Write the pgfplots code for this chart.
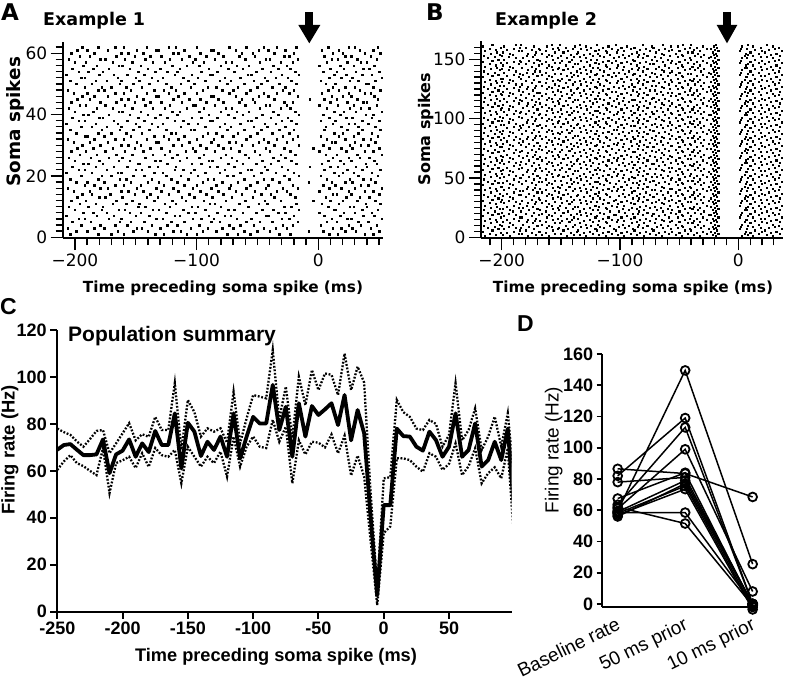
\documentclass[border=0pt]{standalone}
\usepackage{fontspec}
\setmainfont{Liberation Sans}
\newfontfamily\dv{DejaVu Sans}
\usepackage{pgfplots}
\usepackage{pgfplotstable}
\pgfplotsset{compat=1.18}
\newcommand{\fdv}[1]{\dv\fontsize{#1}{#1}\selectfont}
\newcommand{\fls}[1]{\fontsize{#1}{#1}\selectfont}
\pgfplotsset{dstyle/.style={black, solid, line width=1.5pt, mark=o, mark size=4.4pt, mark options={solid, line width=1.8pt}}}

\pgfplotstableread[header=false]{
1 -204 -181 -170 -160 -134 -127 -108 -100 -75 -66 -56 -32 -23 9 16 38 45
2 -199 -190 -165 -152 -140 -119 -113 -95 -84 -61 -50 -40 -8 4 22 31 50
3 -206 -184 -176 -149 -145 -130 -105 -91 -79 -70 -45 -35 -26 12 19 28 43
4 -195 -179 -167 -157 -137 -124 -116 -98 -73 -64 -53 -29 -21 2 25 35 48
5 -202 -187 -163 -154 -143 -121 -110 -88 -81 -59 -48 -38 -17 7 15 33 41
6 -197 -192 -172 -162 -133 -128 -103 -96 -86 -67 -55 -30 -24 11 24 27 52
7 -207 -182 -168 -150 -139 -118 -114 -90 -77 -72 -43 -41 -20 5 18 37 46
8 -193 -185 -174 -155 -146 -125 -107 -101 -83 -62 -51 -33 -27 1 21 30 44
9 -200 -178 -164 -159 -136 -131 -111 -93 -74 -69 -46 -37 -16 13 14 36 49
10 -205 -189 -177 -148 -142 -122 -104 -99 -80 -58 -57 -28 -22 8 26 29 40
11 -196 -183 -169 -158 -147 -126 -117 -89 -85 -65 -49 -42 -18 3 17 39 51
12 -203 -191 -166 -153 -135 -120 -109 -94 -76 -60 -44 -31 -4 10 20 32 47
13 -198 -180 -175 -161 -141 -132 -112 -102 -87 -71 -54 -36 -19 6 23 34 42
14 -194 -186 -171 -151 -138 -123 -106 -92 -78 -63 -47 -39 -23 12 15 27 50
15 -201 -188 -162 -156 -144 -129 -115 -97 -82 -68 -52 -34 -26 1 25 38 45
16 -206 -179 -173 -149 -133 -119 -103 -88 -73 -59 -43 -29 -17 9 19 30 52
17 -192 -184 -167 -160 -146 -127 -110 -100 -84 -72 -56 -41 -21 4 14 35 41
18 -199 -190 -176 -154 -140 -131 -116 -95 -79 -66 -50 -32 -8 11 22 28 47
19 -204 -181 -163 -158 -137 -121 -107 -91 -86 -61 -45 -38 -24 7 26 37 43
20 -195 -178 -170 -152 -143 -125 -113 -99 -75 -70 -53 -28 -16 2 17 33 49
21 -207 -186 -165 -162 -135 -128 -105 -93 -81 -64 -47 -35 -20 13 20 29 44
22 -197 -192 -174 -150 -145 -118 -111 -102 -77 -58 -55 -42 -25 5 24 36 51
23 -202 -183 -168 -157 -139 -132 -117 -89 -83 -69 -44 -30 -7 10 16 31 40
24 -193 -189 -177 -148 -147 -124 -104 -96 -74 -62 -51 -39 -18 3 21 39 48
25 -200 -180 -164 -155 -134 -130 -114 -90 -87 -67 -46 -33 -22 8 18 27 46
26 -205 -187 -172 -161 -142 -120 -108 -98 -80 -71 -57 -37 -27 12 25 34 42
27 -196 -182 -166 -153 -136 -126 -116 -94 -76 -60 -48 -31 -19 6 15 32 52
28 -203 -191 -175 -159 -144 -122 -109 -101 -85 -65 -52 -40 -23 1 23 38 45
29 -198 -185 -169 -151 -138 -129 -103 -92 -78 -72 -43 -28 -4 9 19 28 50
30 -194 -179 -162 -156 -146 -119 -112 -97 -82 -63 -54 -36 -16 4 26 35 41
31 -201 -188 -173 -149 -133 -131 -106 -88 -73 -68 -49 -41 -26 11 14 30 47
32 -206 -184 -167 -160 -141 -123 -115 -100 -86 -59 -45 -34 -21 7 22 37 43
33 -192 -190 -176 -154 -135 -127 -110 -95 -79 -70 -56 -29 -17 2 17 29 49
34 -199 -181 -170 -158 -145 -121 -117 -91 -84 -66 -50 -38 -24 13 20 33 44
35 -204 -178 -163 -152 -139 -125 -105 -102 -75 -61 -47 -32 -20 5 24 36 51
36 -195 -186 -174 -162 -147 -132 -113 -93 -81 -72 -53 -42 -27 6 19 33 47
37 -207 -183 -165 -150 -137 -128 -107 -99 -77 -64 -44 -35 -18 12 25 30 41
38 -197 -192 -168 -157 -143 -118 -111 -89 -87 -58 -55 -30 -22 2 14 36 50
39 -202 -180 -177 -148 -134 -124 -104 -96 -83 -69 -51 -39 -25 9 23 28 44
40 -193 -189 -172 -155 -140 -130 -116 -90 -74 -62 -46 -33 -16 4 18 39 45
41 -200 -185 -164 -161 -146 -120 -114 -98 -80 -67 -57 -37 -19 13 21 31 52
42 -205 -182 -169 -153 -136 -126 -108 -94 -76 -71 -48 -31 -23 7 26 35 42
43 -196 -191 -175 -159 -142 -122 -103 -101 -85 -60 -43 -40 -26 1 16 29 48
44 -203 -179 -166 -151 -138 -129 -112 -92 -78 -65 -52 -28 -21 10 24 37 40
45 -198 -188 -162 -156 -144 -119 -106 -97 -82 -63 -54 -36 -7 5 15 32 49
46 -194 -184 -173 -149 -133 -131 -115 -88 -86 -68 -49 -41 -17 11 20 27 46
47 -201 -190 -167 -160 -141 -123 -110 -100 -73 -59 -45 -34 -24 3 25 38 43
48 -206 -181 -176 -154 -135 -127 -117 -95 -79 -70 -56 -29 -20 8 17 34 51
49 -192 -178 -170 -158 -145 -121 -105 -91 -84 -66 -50 -38 -27 12 22 30 45
50 -199 -186 -163 -152 -139 -125 -113 -102 -75 -61 -47 -32 -18 6 14 39 41
51 -204 -183 -174 -162 -147 -132 -107 -93 -81 -72 -53 -42 -22 2 26 33 47
52 -195 -192 -165 -150 -137 -128 -111 -99 -77 -64 -44 -35 -25 9 19 28 52
53 -207 -180 -168 -157 -143 -118 -104 -89 -87 -58 -55 -30 -16 13 23 36 44
54 -197 -189 -177 -148 -134 -124 -116 -96 -83 -69 -51 -39 -19 4 15 31 50
55 -202 -185 -172 -155 -140 -130 -114 -90 -74 -62 -46 -33 -23 10 21 37 42
56 -193 -182 -164 -161 -146 -120 -108 -98 -80 -67 -57 -37 -26 1 18 29 46
57 -200 -191 -169 -153 -136 -126 -103 -94 -76 -71 -48 -31 -21 7 24 35 40
58 -205 -179 -175 -159 -142 -122 -112 -101 -85 -60 -43 -40 -17 11 16 32 48
59 -196 -188 -166 -151 -138 -129 -106 -92 -78 -65 -52 -28 -24 5 22 27 43
60 -203 -184 -162 -156 -144 -119 -115 -97 -82 -63 -54 -36 -20 12 20 38 51
61 -198 -190 -173 -149 -133 -131 -110 -88 -86 -68 -49 -41 -27 3 17 34 45
62 -194 -181 -167 -160 -141 -123 -117 -100 -73 -59 -45 -34 -18 8 25 30 49
}\rasterA

\pgfplotstableread[header=false]{
1 -214 -97 -193 -80 -178 -65 -160 -48 -145 -129 29 -112 -33 -19 3 12
2 -205 -102 -199 -86 -171 -70 -166 -53 -139 -134 24 -118 -38 -22 1 8
3 -210 -91 -186 -75 -183 -59 -155 -43 -150 -123 35 -107 -27 -17 5 17
4 -201 -99 -196 -83 -175 -67 -163 -50 -142 -131 27 -115 -35 -20 2 10
5 -216 -94 -190 -78 -169 -62 -168 -56 -137 -126 32 -110 -30 -23 6 20
6 -208 -104 -185 -88 -180 -72 -157 -45 -148 -136 22 -120 -40 -18 3 14
7 -203 -89 -198 -73 -173 -57 -153 -41 -144 -121 37 -105 -25 -21 1 7
8 -212 -96 -188 -81 -184 -64 -162 -51 -152 -128 26 -114 -32 -19 5 19
9 -206 -101 -194 -85 -177 -69 -158 -47 -140 -133 31 -117 -37 -22 2 12
10 -215 -93 -200 -77 -170 -60 -160 -48 -146 -125 34 -109 -29 -17 6 8
11 -202 -98 -191 -84 -182 -66 -166 -53 -138 -129 29 -119 -34 -20 3 17
12 -209 -90 -193 -80 -174 -71 -155 -43 -151 -134 24 -111 -39 -23 1 10
13 -204 -103 -199 -86 -179 -58 -163 -50 -143 -123 35 -112 -33 -18 5 20
14 -214 -97 -186 -75 -172 -63 -168 -56 -149 -131 27 -118 -38 -21 2 14
15 -205 -102 -196 -83 -178 -65 -157 -45 -141 -126 32 -107 -27 -19 6 7
16 -210 -91 -190 -78 -171 -70 -153 -41 -145 -136 22 -115 -35 -22 3 19
17 -201 -99 -185 -88 -183 -59 -162 -51 -139 -121 37 -110 -30 -17 1 12
18 -216 -94 -198 -73 -175 -67 -158 -47 -150 -128 26 -120 -40 -20 5 8
19 -208 -104 -188 -81 -169 -62 -160 -48 -142 -133 31 -105 -25 -23 2 17
20 -203 -89 -194 -85 -180 -72 -166 -53 -137 -125 34 -114 -32 -18 6 10
21 -212 -96 -200 -77 -173 -57 -155 -43 -148 -129 29 -117 -37 -21 3 20
22 -206 -101 -191 -84 -184 -64 -163 -50 -144 -134 24 -109 -29 -19 1 14
23 -215 -93 -193 -80 -177 -69 -168 -56 -152 -123 35 -119 -34 -22 5 7
24 -202 -98 -199 -86 -170 -60 -157 -45 -140 -131 27 -111 -39 -17 2 19
25 -209 -90 -186 -75 -182 -66 -153 -41 -146 -126 32 -112 -33 -20 6 12
26 -204 -103 -196 -83 -174 -71 -162 -51 -138 -136 22 -118 -38 -23 3 8
27 -214 -97 -190 -78 -179 -58 -158 -47 -151 -121 37 -107 -27 -18 1 17
28 -205 -102 -185 -88 -172 -63 -160 -48 -143 -128 26 -115 -35 -21 5 10
29 -210 -91 -198 -73 -178 -65 -166 -53 -149 -133 31 -110 -30 -19 2 20
30 -201 -99 -188 -81 -171 -70 -155 -43 -141 -125 34 -120 -40 -22 6 14
31 -216 -94 -194 -85 -183 -59 -163 -50 -145 -129 29 -105 -25 -17 3 7
32 -208 -104 -200 -77 -175 -67 -168 -56 -139 -134 24 -114 -32 -20 1 19
33 -203 -89 -191 -84 -169 -62 -157 -45 -150 -123 35 -117 -37 -23 5 12
34 -212 -96 -193 -80 -180 -72 -153 -41 -142 -131 27 -109 -29 -18 2 8
35 -206 -101 -199 -86 -173 -57 -162 -51 -137 -126 32 -119 -34 -21 6 17
36 -215 -93 -186 -75 -184 -64 -158 -47 -148 -136 22 -111 -39 -19 3 10
37 -202 -98 -196 -83 -177 -69 -160 -48 -144 -121 37 -112 -33 -22 1 20
38 -209 -90 -190 -78 -170 -60 -166 -53 -152 -128 26 -118 -38 -17 5 14
39 -204 -103 -185 -88 -182 -66 -155 -43 -140 -133 31 -107 -27 -20 2 7
40 -214 -97 -198 -73 -174 -71 -163 -50 -146 -125 34 -115 -35 -23 6 19
41 -205 -102 -188 -81 -179 -58 -168 -56 -138 -129 29 -110 -30 -18 3 12
42 -210 -91 -194 -85 -172 -63 -157 -45 -151 -134 24 -120 -40 -21 1 8
43 -201 -99 -200 -77 -178 -65 -153 -41 -143 -123 35 -105 -25 -19 5 17
44 -216 -94 -191 -84 -171 -70 -162 -51 -149 -131 27 -114 -32 -22 2 10
45 -208 -104 -193 -80 -183 -59 -158 -47 -141 -126 32 -117 -37 -17 6 20
46 -203 -89 -199 -86 -175 -67 -160 -48 -145 -136 22 -109 -29 -20 3 14
47 -212 -96 -186 -75 -169 -62 -166 -53 -139 -121 37 -119 -34 -23 1 7
48 -206 -101 -196 -83 -180 -72 -155 -43 -150 -128 26 -111 -39 -18 5 19
49 -215 -93 -190 -78 -173 -57 -163 -50 -142 -133 31 -112 -33 -21 2 12
50 -202 -98 -185 -88 -184 -64 -168 -56 -137 -125 34 -118 -38 -19 6 8
51 -209 -90 -198 -73 -177 -69 -157 -45 -148 -129 29 -107 -27 -22 3 17
52 -204 -103 -188 -81 -170 -60 -153 -41 -144 -134 24 -115 -35 -17 1 10
53 -214 -97 -194 -85 -182 -66 -162 -51 -152 -123 35 -110 -30 -20 5 20
54 -205 -102 -200 -77 -174 -71 -158 -47 -140 -131 27 -120 -40 -23 2 14
55 -210 -91 -191 -84 -179 -58 -160 -48 -146 -126 32 -105 -25 -18 6 7
56 -201 -99 -193 -80 -172 -63 -166 -53 -138 -136 22 -114 -32 -21 3 19
57 -216 -94 -199 -86 -178 -65 -155 -43 -151 -121 37 -117 -37 -19 1 12
58 -208 -104 -186 -75 -171 -70 -163 -50 -143 -128 26 -109 -29 -22 5 8
59 -203 -89 -196 -83 -183 -59 -168 -56 -149 -133 31 -119 -34 -17 2 17
60 -212 -96 -190 -78 -175 -67 -157 -45 -141 -125 34 -111 -39 -20 6 10
61 -206 -101 -185 -88 -169 -62 -153 -41 -145 -129 29 -112 -33 -23 3 20
62 -215 -93 -198 -73 -180 -72 -162 -51 -139 -134 24 -118 -38 -18 1 14
63 -202 -98 -188 -81 -173 -57 -158 -47 -150 -123 35 -107 -27 -21 5 7
64 -209 -90 -194 -85 -184 -64 -160 -48 -142 -131 27 -115 -35 -19 2 19
65 -204 -103 -200 -77 -177 -69 -166 -53 -137 -126 32 -110 -30 -22 6 12
66 -214 -97 -191 -84 -170 -60 -155 -43 -148 -136 22 -120 -40 -17 3 8
67 -205 -102 -193 -80 -182 -66 -163 -50 -144 -121 37 -105 -25 -20 1 17
68 -210 -91 -199 -86 -174 -71 -168 -56 -152 -128 26 -114 -32 -23 5 10
69 -201 -99 -186 -75 -179 -58 -157 -45 -140 -133 31 -117 -37 -18 2 20
70 -216 -94 -196 -83 -172 -63 -153 -41 -146 -125 34 -109 -29 -21 6 14
71 -208 -104 -190 -78 -178 -65 -162 -51 -138 -129 29 -119 -34 -19 3 7
72 -203 -89 -185 -88 -171 -70 -158 -47 -151 -134 24 -111 -39 -22 1 19
73 -212 -96 -198 -73 -183 -59 -160 -48 -143 -123 35 -112 -33 -17 5 12
74 -206 -101 -188 -81 -175 -67 -166 -53 -149 -131 27 -118 -38 -20 2 8
75 -215 -93 -194 -85 -169 -62 -155 -43 -141 -126 32 -107 -27 -23 6 17
76 -202 -98 -200 -77 -180 -72 -163 -50 -145 -136 22 -115 -35 -18 3 10
77 -209 -90 -191 -84 -173 -57 -168 -56 -139 -121 37 -110 -30 -21 1 20
78 -204 -103 -193 -80 -184 -64 -157 -45 -150 -128 26 -120 -40 -19 5 14
79 -214 -97 -199 -86 -177 -69 -153 -41 -142 -133 31 -105 -25 -22 2 7
80 -205 -102 -186 -75 -170 -60 -162 -51 -137 -125 34 -114 -32 -17 6 19
81 -210 -91 -196 -83 -182 -66 -158 -47 -148 -129 29 -117 -37 -20 3 12
82 -201 -99 -190 -78 -174 -71 -160 -48 -144 -134 24 -109 -29 -23 1 8
83 -216 -94 -185 -88 -179 -58 -166 -53 -152 -123 35 -119 -34 -18 5 17
84 -208 -104 -198 -73 -172 -63 -155 -43 -140 -131 27 -111 -39 -21 2 10
85 -203 -89 -188 -81 -178 -65 -163 -50 -146 -126 32 -112 -33 -19 6 20
86 -212 -96 -194 -85 -171 -70 -168 -56 -138 -136 22 -118 -38 -22 3 14
87 -206 -101 -200 -77 -183 -59 -157 -45 -151 -121 37 -107 -27 -17 1 7
88 -215 -93 -191 -84 -175 -67 -153 -41 -143 -128 26 -115 -35 -20 5 19
89 -202 -98 -193 -80 -169 -62 -162 -51 -149 -133 31 -110 -30 -23 2 12
90 -209 -90 -199 -86 -180 -72 -158 -47 -141 -125 34 -120 -40 -18 6 8
91 -204 -103 -186 -75 -173 -57 -160 -48 -145 -129 29 -105 -25 -21 3 17
92 -214 -97 -196 -83 -184 -64 -166 -53 -139 -134 24 -114 -32 -19 1 10
93 -205 -102 -190 -78 -177 -69 -155 -43 -150 -123 35 -117 -37 -22 5 20
94 -210 -91 -185 -88 -170 -60 -163 -50 -142 -131 27 -109 -29 -17 2 14
95 -201 -99 -198 -73 -182 -66 -168 -56 -137 -126 32 -119 -34 -20 6 7
96 -216 -94 -188 -81 -174 -71 -157 -45 -148 -136 22 -111 -39 -23 3 19
97 -208 -104 -194 -85 -179 -58 -153 -41 -144 -121 37 -112 -33 -18 1 12
98 -203 -89 -200 -77 -172 -63 -162 -51 -152 -128 26 -118 -38 -21 5 8
99 -212 -96 -191 -84 -178 -65 -158 -47 -140 -133 31 -107 -27 -19 2 17
100 -206 -101 -193 -80 -171 -70 -160 -48 -146 -125 34 -115 -35 -22 6 10
101 -215 -93 -199 -86 -183 -59 -166 -53 -138 -129 29 -110 -30 -17 3 20
102 -202 -98 -186 -75 -175 -67 -155 -43 -151 -134 24 -120 -40 -20 1 14
103 -209 -90 -196 -83 -169 -62 -163 -50 -143 -123 35 -105 -25 -23 5 7
104 -204 -103 -190 -78 -180 -72 -168 -56 -149 -131 27 -114 -32 -18 2 19
105 -214 -97 -185 -88 -173 -57 -157 -45 -141 -126 32 -117 -37 -21 6 12
106 -205 -102 -198 -73 -184 -64 -153 -41 -145 -136 22 -109 -29 -19 3 8
107 -210 -91 -188 -81 -177 -69 -162 -51 -139 -121 37 -119 -34 -22 1 17
108 -201 -99 -194 -85 -170 -60 -158 -47 -150 -128 26 -111 -39 -17 5 10
109 -216 -94 -200 -77 -182 -66 -160 -48 -142 -133 31 -112 -33 -20 2 20
110 -208 -104 -191 -84 -174 -71 -166 -53 -137 -125 34 -118 -38 -23 6 14
111 -203 -89 -193 -80 -179 -58 -155 -43 -148 -129 29 -107 -27 -18 3 7
112 -212 -96 -199 -86 -172 -63 -163 -50 -144 -134 24 -115 -35 -21 1 19
113 -206 -101 -186 -75 -178 -65 -168 -56 -152 -123 35 -110 -30 -19 5 12
114 -215 -93 -196 -83 -171 -70 -157 -45 -140 -131 27 -120 -40 -22 2 8
115 -202 -98 -190 -78 -183 -59 -153 -41 -146 -126 32 -105 -25 -17 6 17
116 -209 -90 -185 -88 -175 -67 -162 -51 -138 -136 22 -114 -32 -20 3 10
117 -204 -103 -198 -73 -169 -62 -158 -47 -151 -121 37 -117 -37 -23 1 20
118 -214 -97 -188 -81 -180 -72 -160 -48 -143 -128 26 -109 -29 -18 5 14
119 -205 -102 -194 -85 -173 -57 -166 -53 -149 -133 31 -119 -34 -21 2 7
120 -210 -91 -200 -77 -184 -64 -155 -43 -141 -125 34 -111 -39 -19 6 19
121 -201 -99 -191 -84 -177 -69 -163 -50 -145 -129 29 -112 -33 -22 3 12
122 -216 -94 -193 -80 -170 -60 -168 -56 -139 -134 24 -118 -38 -17 1 8
123 -208 -104 -199 -86 -182 -66 -157 -45 -150 -123 35 -107 -27 -20 5 17
124 -203 -89 -186 -75 -174 -71 -153 -41 -142 -131 27 -115 -35 -23 2 10
125 -212 -96 -196 -83 -179 -58 -162 -51 -137 -126 32 -110 -30 -18 6 20
126 -206 -101 -190 -78 -172 -63 -158 -47 -148 -136 22 -120 -40 -21 3 14
127 -215 -93 -185 -88 -178 -65 -160 -48 -144 -121 37 -105 -25 -19 1 7
128 -202 -98 -198 -73 -171 -70 -166 -53 -152 -128 26 -114 -32 -22 5 19
129 -209 -90 -188 -81 -183 -59 -155 -43 -140 -133 31 -117 -37 -17 2 12
130 -204 -103 -194 -85 -175 -67 -163 -50 -146 -125 34 -109 -29 -20 6 8
131 -214 -97 -200 -77 -169 -62 -168 -56 -138 -129 29 -119 -34 -23 3 17
132 -205 -102 -191 -84 -180 -72 -157 -45 -151 -134 24 -111 -39 -18 1 10
133 -210 -91 -193 -80 -173 -57 -153 -41 -143 -123 35 -112 -33 -21 5 20
134 -201 -99 -199 -86 -184 -64 -162 -51 -149 -131 27 -118 -38 -19 2 14
135 -216 -94 -186 -75 -177 -69 -158 -47 -141 -126 32 -107 -27 -22 6 7
136 -208 -104 -196 -83 -170 -60 -160 -48 -145 -136 22 -115 -35 -17 3 19
137 -203 -89 -190 -78 -182 -66 -166 -53 -139 -121 37 -110 -30 -20 1 12
138 -212 -96 -185 -88 -174 -71 -155 -43 -150 -128 26 -120 -40 -23 5 8
139 -206 -101 -198 -73 -179 -58 -163 -50 -142 -133 31 -105 -25 -18 2 17
140 -215 -93 -188 -81 -172 -63 -168 -56 -137 -125 34 -114 -32 -21 6 10
141 -202 -98 -194 -85 -178 -65 -157 -45 -148 -129 29 -117 -37 -19 3 20
142 -209 -90 -200 -77 -171 -70 -153 -41 -144 -134 24 -109 -29 -22 1 14
143 -204 -103 -191 -84 -183 -59 -162 -51 -152 -123 35 -119 -34 -17 5 7
144 -214 -97 -193 -80 -175 -67 -158 -47 -140 -131 27 -111 -39 -20 2 19
145 -205 -102 -199 -86 -169 -62 -160 -48 -146 -126 32 -112 -33 -23 6 12
146 -210 -91 -186 -75 -180 -72 -166 -53 -138 -136 22 -118 -38 -18 3 8
147 -201 -99 -196 -83 -173 -57 -155 -43 -151 -121 37 -107 -27 -21 1 17
148 -216 -94 -190 -78 -184 -64 -163 -50 -143 -128 26 -115 -35 -19 5 10
149 -208 -104 -185 -88 -177 -69 -168 -56 -149 -133 31 -110 -30 -22 2 20
150 -203 -89 -198 -73 -170 -60 -157 -45 -141 -125 34 -120 -40 -17 6 14
151 -212 -96 -188 -81 -182 -66 -153 -41 -145 -129 29 -105 -25 -20 3 7
152 -206 -101 -194 -85 -174 -71 -162 -51 -139 -134 24 -114 -32 -23 1 19
153 -215 -93 -200 -77 -179 -58 -158 -47 -150 -123 35 -117 -37 -18 5 12
154 -202 -98 -191 -84 -172 -63 -160 -48 -142 -131 27 -109 -29 -21 2 8
155 -209 -90 -193 -80 -178 -65 -166 -53 -137 -126 32 -119 -34 -19 6 17
156 -204 -103 -199 -86 -171 -70 -155 -43 -148 -136 22 -111 -39 -22 3 10
157 -214 -97 -186 -75 -183 -59 -163 -50 -144 -121 37 -112 -33 -17 1 20
158 -205 -102 -196 -83 -175 -67 -168 -56 -152 -128 26 -118 -38 -20 5 14
159 -210 -91 -190 -78 -169 -62 -157 -45 -140 -133 31 -107 -27 -23 2 7
160 -201 -99 -185 -88 -180 -72 -153 -41 -146 -125 34 -115 -35 -18 6 19
161 -216 -94 -198 -73 -173 -57 -162 -51 -138 -129 29 -110 -30 -21 3 12
162 -208 -104 -188 -81 -184 -64 -158 -47 -151 -134 24 -120 -40 -19 1 8
}\rasterB

\pgfplotstableread{
t m lo hi
-250 69 60.4 78
-245 71 64 76.5
-240 71.4 66.7 75.3
-235 69 63.3 72.5
-230 66.7 62 70.3
-225 66.7 60 73.5
-220 67 58.2 77
-215 73.4 69.7 77.4
-210 59 50.5 67.5
-205 67 63.3 71.7
-200 68.6 64.5 76
-195 73.4 66 80.3
-190 66 61.2 73
-185 71.7 67.5 75.6
-180 68 61.7 74.5
-175 77 69.7 83
-170 71 66.7 77.4
-165 71 66 77.4
-160 84.5 68.9 97.4
-155 61 54.7 69
-150 80.5 70.3 90.2
-145 76.7 66 85
-140 66.3 61.8 74.6
-135 72.4 66 78.1
-130 68.9 63.3 76.7
-125 74.6 68.2 78.1
-120 66 57.5 72
-115 84.5 74.6 93.7
-110 65.3 61.8 71.7
-105 74.6 70.3 82.4
-100 83 74.6 92.3
-95 80.2 70.3 91.6
-90 80.2 69.7 90.9
-85 96.6 81.7 111.5
-80 77.4 72.4 82
-75 87.3 78.8 95.9
-70 66 54.7 74
-65 88.8 73 100.1
-60 74.6 67 88
-55 87.6 72.4 103
-50 83.8 72 94.4
-45 86.2 70 101.5
-40 88.8 75.5 100.9
-35 79.5 67.5 92.3
-30 92.3 75 110
-25 73 58 94.4
-20 85.9 66.5 104.4
-15 76 57.5 97.6
-10 40 30 50
-5 7 2.8 10.6
0 45.4 33.5 56.8
5 45.4 36.3 57.3
10 78 65.4 90.2
15 74.8 65.3 85
20 74.6 64.6 83
25 70.3 61.8 78
30 68.6 59.6 77.4
35 76.7 67.5 81.7
40 73.1 66 80
45 66 60.4 70.3
50 70.3 63 75.3
55 84.5 71.7 97.3
60 66 58.2 73
65 68.9 62 77.4
70 80.2 69.6 86.6
75 61.8 54.7 68.9
80 64.6 59 74.6
85 72.4 61.5 83.1
90 64.6 56.8 70.3
95 78 69.6 84.5
100 41.3 28.6 55
}\popC

\begin{document}
\begin{tikzpicture}[x=1pt,y=1pt]
\useasboundingbox (0,0) rectangle (792,681);

% ---------------- Panel A ----------------
\begin{axis}[
  at={(62.7pt,442.8pt)}, anchor=south west, scale only axis,
  width=320pt, height=195.7pt,
  xmin=-210, xmax=53, ymin=-0.3, ymax=63.5,
  axis lines*=left,
  axis line style={line width=1.6pt},
  every tick/.style={black, line width=1.3pt},
  tick align=outside, major tick length=12pt, minor tick length=7pt,
  xtick={-200,-100,0}, xticklabels={−200,−100,0},
  minor xtick={-190,-180,...,50},
  ytick={0,20,40,60}, yticklabels={0,20,40,60},
  minor ytick={2,4,...,62},
  tick label style={font=\fdv{17}},
]
\pgfplotsinvokeforeach{1,...,17}{
  \addplot[only marks, mark=square*, mark size=0.75pt, black] table[x index=#1, y index=0] {\rasterA};
}
\end{axis}

% ---------------- Panel B ----------------
\begin{axis}[
  at={(481pt,442.7pt)}, anchor=south west, scale only axis,
  width=302.3pt, height=196.8pt,
  xmin=-217.5, xmax=38, ymin=-0.8, ymax=165,
  axis lines*=left,
  axis line style={line width=1.6pt},
  every tick/.style={black, line width=1.3pt},
  tick align=outside, major tick length=12pt, minor tick length=7pt,
  xtick={-200,-100,0}, xticklabels={−200,−100,0},
  minor xtick={-210,-200,...,30},
  ytick={0,50,100,150}, yticklabels={0,50,100,150},
  minor ytick={5,10,...,160},
  tick label style={font=\fdv{17}},
]
\pgfplotsinvokeforeach{1,...,14,16}{
  \addplot[only marks, mark=square*, mark size=0.55pt, black] table[x index=#1, y index=0] {\rasterB};
}
\addplot[only marks, mark=square*, mark size=0.55pt, black, each nth point=2] table[x index=15, y index=0] {\rasterB};
\end{axis}

% ---------------- Panel C ----------------
\begin{axis}[
  at={(57.3pt,69.3pt)}, anchor=south west, scale only axis,
  width=454.4pt, height=281.7pt,
  xmin=-250, xmax=98, ymin=0, ymax=120,
  axis lines*=left,
  axis line style={line width=2pt},
  every tick/.style={black, line width=2pt},
  tick align=outside, major tick length=7pt,
  xtick={-250,-200,-150,-100,-50,0,50},
  xticklabels={-250,-200,-150,-100,-50,0,50},
  ytick={0,20,40,60,80,100,120},
  yticklabels={0,20,40,60,80,100,120},
  tick label style={font=\fls{18}\bfseries},
]
\addplot[black, line width=3.8pt, line join=round] table[x=t, y=m] {\popC};
\addplot[black, line width=2.3pt, dash pattern=on 1.8pt off 1.7pt] table[x=t, y=hi] {\popC};
\addplot[black, line width=2.3pt, dash pattern=on 1.8pt off 1.7pt] table[x=t, y=lo] {\popC};
\end{axis}

% ---------------- Panel D ----------------
\begin{axis}[
  at={(601.7pt,73.9pt)}, anchor=south west, scale only axis,
  width=155pt, height=253.1pt,
  xmin=-0.237, xmax=2.06, ymin=-2, ymax=160,
  axis lines*=left, clip=false,
  axis line style={line width=1.8pt},
  every tick/.style={black, line width=1.8pt},
  tick align=outside, major tick length=5pt,
  xtick={0,1,2}, xticklabels={Baseline rate,50 ms prior,10 ms prior},
  x tick style={draw=none},
  xticklabel style={rotate=26, anchor=north east, inner sep=0pt, xshift=-4pt, yshift=-3pt, font=\fls{19}},
  ytick={0,20,40,60,80,100,120,140,160},
  yticklabels={0,20,40,60,80,100,120,140,160},
  yticklabel style={font=\fls{18}\bfseries},
]
\addplot[dstyle] coordinates {(0,86.5) (1,83.5) (2,68.5)};
\addplot[dstyle] coordinates {(0,82) (1,119) (2,0)};
\addplot[dstyle] coordinates {(0,78) (1,81) (2,0)};
\addplot[dstyle] coordinates {(0,67.5) (1,84) (2,-1)};
\addplot[dstyle] coordinates {(0,63.5) (1,113) (2,0)};
\addplot[dstyle] coordinates {(0,61) (1,99) (2,8)};
\addplot[dstyle] coordinates {(0,59.5) (1,149.5) (2,25.5)};
\addplot[dstyle] coordinates {(0,59) (1,79) (2,0)};
\addplot[dstyle] coordinates {(0,58) (1,75.5) (2,-2)};
\addplot[dstyle] coordinates {(0,57) (1,73.5) (2,-3.5)};
\addplot[dstyle] coordinates {(0,58.5) (1,58.5) (2,0)};
\addplot[dstyle] coordinates {(0,62) (1,51.5) (2,-1)};
\addplot[dstyle] coordinates {(0,56) (1,77) (2,0)};
\end{axis}

% ---------------- annotations ----------------
\node[anchor=north west, inner sep=0pt, font=\fdv{23}\bfseries] at (1,677.5) {A};
\node[anchor=base west, inner sep=0pt, font=\fdv{17.5}\bfseries] at (43,655) {Example 1};
\node[rotate=90, anchor=base, inner sep=0pt, font=\fdv{18.4}\bfseries] at (20.1,559.3) {Soma spikes};
\node[anchor=base, inner sep=0pt, font=\fdv{15.3}\bfseries] at (223,388.5) {Time preceding soma spike (ms)};
\fill (305,669.3) rectangle (313.3,655);
\fill (298.3,656) -- (320.3,656) -- (309.3,637.7) -- cycle;
\node[anchor=north west, inner sep=0pt, font=\fdv{23}\bfseries] at (426,677.7) {B};
\node[anchor=base west, inner sep=0pt, font=\fdv{17.5}\bfseries] at (495,655) {Example 2};
\node[rotate=90, anchor=base, inner sep=0pt, font=\fdv{16}\bfseries] at (430,552) {Soma spikes};
\node[anchor=base, inner sep=0pt, font=\fdv{15.3}\bfseries] at (633,388.5) {Time preceding soma spike (ms)};
\fill (723.3,669.3) rectangle (731,655);
\fill (716.7,656) -- (737.3,656) -- (727,637.7) -- cycle;
\node[anchor=north west, inner sep=0pt, font=\fls{23}\bfseries] at (0,383) {C};
\node[anchor=base west, inner sep=0pt, font=\fls{21}\bfseries] at (68,340) {Population summary};
\node[rotate=90, anchor=base, inner sep=0pt, font=\fls{18.4}\bfseries] at (14.5,231) {Firing rate (Hz)};
\node[anchor=base, inner sep=0pt, font=\fls{18.2}\bfseries] at (276,20) {Time preceding soma spike (ms)};
\node[anchor=north west, inner sep=0pt, font=\fls{23}\bfseries] at (517,366) {D};
\node[rotate=90, anchor=base, inner sep=0pt, font=\fls{19}] at (558.5,231) {Firing rate (Hz)};
\end{tikzpicture}
\end{document}
